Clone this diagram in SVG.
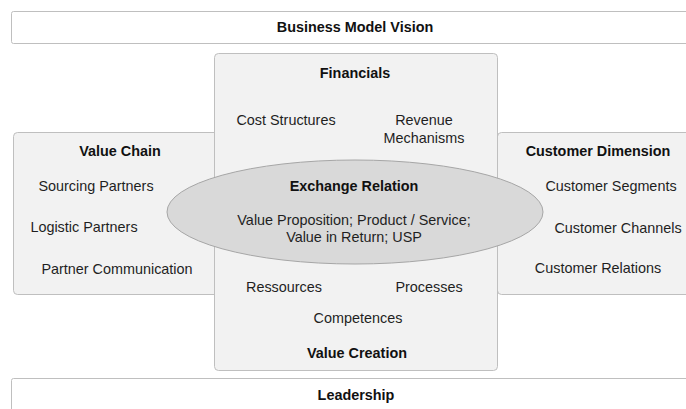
<svg xmlns="http://www.w3.org/2000/svg" width="686" height="409" viewBox="0 0 686 409">
<style>
.band{fill:#ffffff;stroke:#bfbfbf;stroke-width:1}
.box{fill:#f2f2f2;stroke:#bfbfbf;stroke-width:1}
.ell{fill:#d9d9d9;stroke:#a6a6a6;stroke-width:1}
text{font-family:"Liberation Sans",Arial,sans-serif;font-size:14.4px;fill:#1f1f1f;text-anchor:middle}
.b{font-weight:bold;fill:#111111}
</style>
<rect width="686" height="409" fill="#ffffff"/>
<g id="vision">
<rect class="band" x="11.5" y="11.5" width="690" height="32" rx="2"/>
<text class="b" x="355" y="32">Business Model Vision</text>
</g>
<g id="value-chain">
<rect class="box" x="13.5" y="132.5" width="210" height="162" rx="4"/>
<text class="b" x="120" y="156">Value Chain</text>
<text x="96" y="191">Sourcing Partners</text>
<text x="84" y="232">Logistic Partners</text>
<text x="117" y="274">Partner Communication</text>
</g>
<g id="customer-dimension">
<rect class="box" x="497.5" y="132.5" width="210" height="162" rx="4"/>
<text class="b" x="598" y="156">Customer Dimension</text>
<text x="611" y="191">Customer Segments</text>
<text x="618" y="233">Customer Channels</text>
<text x="598" y="273">Customer Relations</text>
</g>
<g id="financials-value-creation">
<rect class="box" x="214.5" y="53.5" width="283" height="317" rx="4"/>
<text class="b" x="355" y="78">Financials</text>
<text x="286" y="125">Cost Structures</text>
<text x="424" y="125">Revenue</text>
<text x="424" y="143">Mechanisms</text>
<text x="284" y="292">Ressources</text>
<text x="429" y="292">Processes</text>
<text x="358" y="323">Competences</text>
<text class="b" x="357" y="358">Value Creation</text>
</g>
<g id="exchange-relation">
<ellipse class="ell" cx="355" cy="212" rx="188" ry="52"/>
<text class="b" x="354" y="191">Exchange Relation</text>
<text x="354" y="225">Value Proposition; Product / Service;</text>
<text x="354" y="242">Value in Return; USP</text>
</g>
<g id="leadership">
<rect class="band" x="11.5" y="378.5" width="690" height="40" rx="2"/>
<text class="b" x="356" y="400">Leadership</text>
</g>
<g id="connectors"></g>
</svg>
